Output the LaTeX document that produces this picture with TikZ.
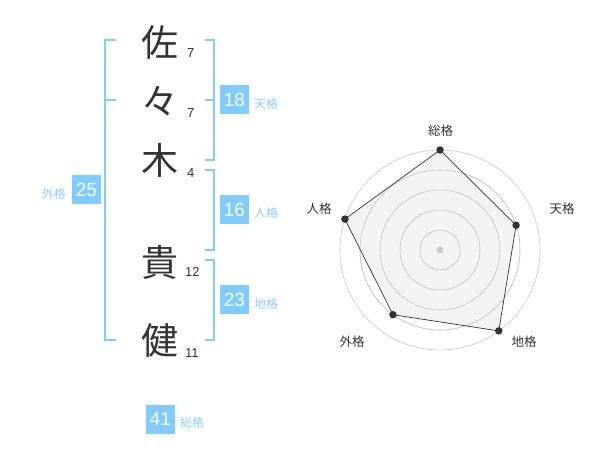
\documentclass[tikz,border=0pt]{standalone}
\usepackage{fontspec}
\setmainfont{Liberation Sans}
\newfontfamily\jp{Noto Sans CJK JP}
\definecolor{skyb}{RGB}{128,204,255}
\definecolor{skyt}{RGB}{140,205,250}
\definecolor{ink}{RGB}{51,51,51}
\definecolor{ringc}{RGB}{200,200,200}
\definecolor{areac}{RGB}{240,240,240}
\begin{document}
\begin{tikzpicture}[x=1pt,y=-1pt,
  kanji/.style={font=\jp\fontsize{37}{37}\selectfont, text=ink, inner sep=0pt},
  strokes/.style={font=\fontsize{13}{13}\selectfont, text=ink, inner sep=0pt, anchor=west},
  numbox/.style={fill=skyb, text=white, font=\fontsize{19}{19}\selectfont, minimum width=29pt, minimum height=29pt, inner sep=0pt},
  kaku/.style={font=\jp\fontsize{12}{12}\selectfont, text=skyt, inner sep=0pt},
  brk/.style={draw=skyb, line width=2pt},
  ring/.style={draw=ringc, line width=0.6pt},
  axlab/.style={font=\jp\fontsize{12.5}{12.5}\selectfont, text=ink, inner sep=0pt},
  pt/.style={circle, fill=ink, inner sep=0pt, minimum size=7.5pt}
]
\useasboundingbox (0,0) rectangle (600,470);
% name characters
\node[kanji] (k1) at (160,42) {佐};
\node[kanji] (k2) at (160,101) {々};
\node[kanji] (k3) at (160,160) {木};
\node[kanji] (k4) at (160,262) {貴};
\node[kanji] (k5) at (160,340) {健};
\node[strokes] (s1) at (187,53) {7};
\node[strokes] (s2) at (187,113) {7};
\node[strokes] (s3) at (187,173) {4};
\node[strokes] (s4) at (185,272) {12};
\node[strokes] (s5) at (185,353) {11};
% brackets
\draw[brk] (116,40) -- (105,40) -- (105,340) -- (116,340);
\draw[brk] (105,100) -- (116,100);
\draw[brk] (205,40) -- (214,40) -- (214,160) -- (205,160);
\draw[brk] (205,100) -- (214,100);
\draw[brk] (205,170) -- (214,170) -- (214,250) -- (205,250);
\draw[brk] (205,260) -- (214,260) -- (214,340) -- (205,340);
% boxes
\node[numbox] (b18) at (234.5,100) {18};
\node[kaku, anchor=west] (l18) at (254,104) {天格};
\node[numbox] (b16) at (234.5,210) {16};
\node[kaku, anchor=west] (l16) at (254,213) {人格};
\node[numbox] (b23) at (234.5,300) {23};
\node[kaku, anchor=west] (l23) at (254,304) {地格};
\node[numbox] (b25) at (86.5,190) {25};
\node[kaku, anchor=east] (l25) at (66,194) {外格};
\node[numbox] (b41) at (160.5,419) {41};
\node[kaku, anchor=west] (l41) at (180,423) {総格};
% radar
\coordinate (c) at (440,250);
\foreach \r in {20,40,60,80,100} \draw[ring] (c) circle[radius=\r];
\path (c) ++(0,-100) coordinate (p1);
\path (c) ++({80*cos(18)},{-80*sin(18)}) coordinate (p2);
\path (c) ++({100*cos(-54)},{-100*sin(-54)}) coordinate (p3);
\path (c) ++({80*cos(-126)},{-80*sin(-126)}) coordinate (p4);
\path (c) ++({100*cos(162)},{-100*sin(162)}) coordinate (p5);
\fill[areac, opacity=0.8] (p1) -- (p2) -- (p3) -- (p4) -- (p5) -- cycle;
\foreach \r in {20,40,60,80} \draw[ring] (c) circle[radius=\r];
\draw[ink, line width=0.7pt] (p1) -- (p2) -- (p3) -- (p4) -- (p5) -- cycle;
\node[circle, fill=ringc, inner sep=0pt, minimum size=7pt] (cd) at (c) {};
\foreach \i in {1,...,5} \node[pt] (d\i) at (p\i) {};
\node[axlab] (a1) at (440.5,131) {総格};
\node[axlab] (a2) at (562,209) {天格};
\node[axlab] (a3) at (524,342) {地格};
\node[axlab] (a4) at (352,342) {外格};
\node[axlab] (a5) at (319,209) {人格};
\end{tikzpicture}
\end{document}
